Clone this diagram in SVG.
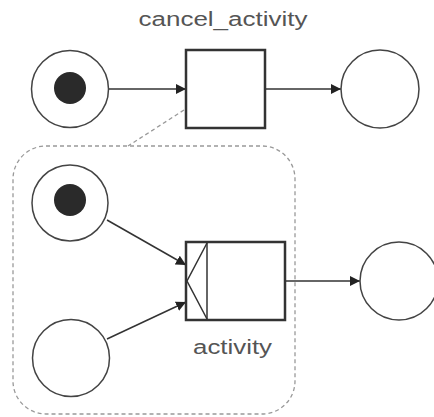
<svg xmlns="http://www.w3.org/2000/svg" width="434" height="417" viewBox="0 0 434 417">
<style>
.pl{fill:#fff;stroke:#444;stroke-width:1.5}
.tk{fill:#2a2a2a}
.tr{fill:#fff;stroke:#333;stroke-width:2.5}
.ln{stroke:#333;stroke-width:1.5;fill:none}
.arc{stroke:#333;stroke-width:1.5;fill:none;marker-end:url(#ah)}
.lbl{font-family:"Liberation Sans",Arial,sans-serif;font-size:20px;fill:#555}
.reg{fill:none;stroke:#999;stroke-width:1.3;stroke-dasharray:4 3}
</style>
<defs>
<marker id="ah" viewBox="0 0 10 10" refX="10" refY="5" markerWidth="10" markerHeight="10" markerUnits="userSpaceOnUse" orient="auto">
<path d="M0,0 L10,5 L0,10 Z" fill="#222"/>
</marker>
</defs>
<g id="cancel-region">
<rect class="reg" x="13" y="146" width="282" height="268" rx="33" ry="33"/>
<line class="reg" x1="184" y1="110" x2="128" y2="146"/>
</g>
<g id="connectors">
<line class="arc" x1="109" y1="89" x2="186" y2="89"/>
<line class="arc" x1="265" y1="89" x2="341" y2="89"/>
<line class="arc" x1="107" y1="220" x2="186" y2="265"/>
<line class="arc" x1="107" y1="339" x2="186" y2="302"/>
<line class="arc" x1="285" y1="281" x2="360" y2="281"/>
</g>
<g id="p-start">
<circle class="pl" cx="70" cy="89" r="38.5"/>
<circle class="tk" cx="70" cy="88" r="16"/>
</g>
<g id="t-cancel">
<rect class="tr" x="186" y="50" width="79" height="78"/>
<text class="lbl" x="223" y="26" text-anchor="middle" textLength="169" lengthAdjust="spacingAndGlyphs">cancel_activity</text>
</g>
<g id="p-cancelled">
<circle class="pl" cx="380" cy="89" r="39"/>
</g>
<g id="p-ready">
<circle class="pl" cx="70" cy="203" r="38"/>
<circle class="tk" cx="70" cy="200" r="16"/>
</g>
<g id="p-input">
<circle class="pl" cx="71" cy="358" r="38.5"/>
</g>
<g id="t-activity">
<rect class="tr" x="186" y="242" width="99" height="78"/>
<line class="ln" x1="207" y1="242" x2="207" y2="320"/>
<polyline class="ln" points="207,243 187,281 207,319"/>
<text class="lbl" x="232.5" y="354" text-anchor="middle" textLength="79" lengthAdjust="spacingAndGlyphs">activity</text>
</g>
<g id="p-done">
<circle class="pl" cx="399" cy="281" r="39"/>
</g>
</svg>
